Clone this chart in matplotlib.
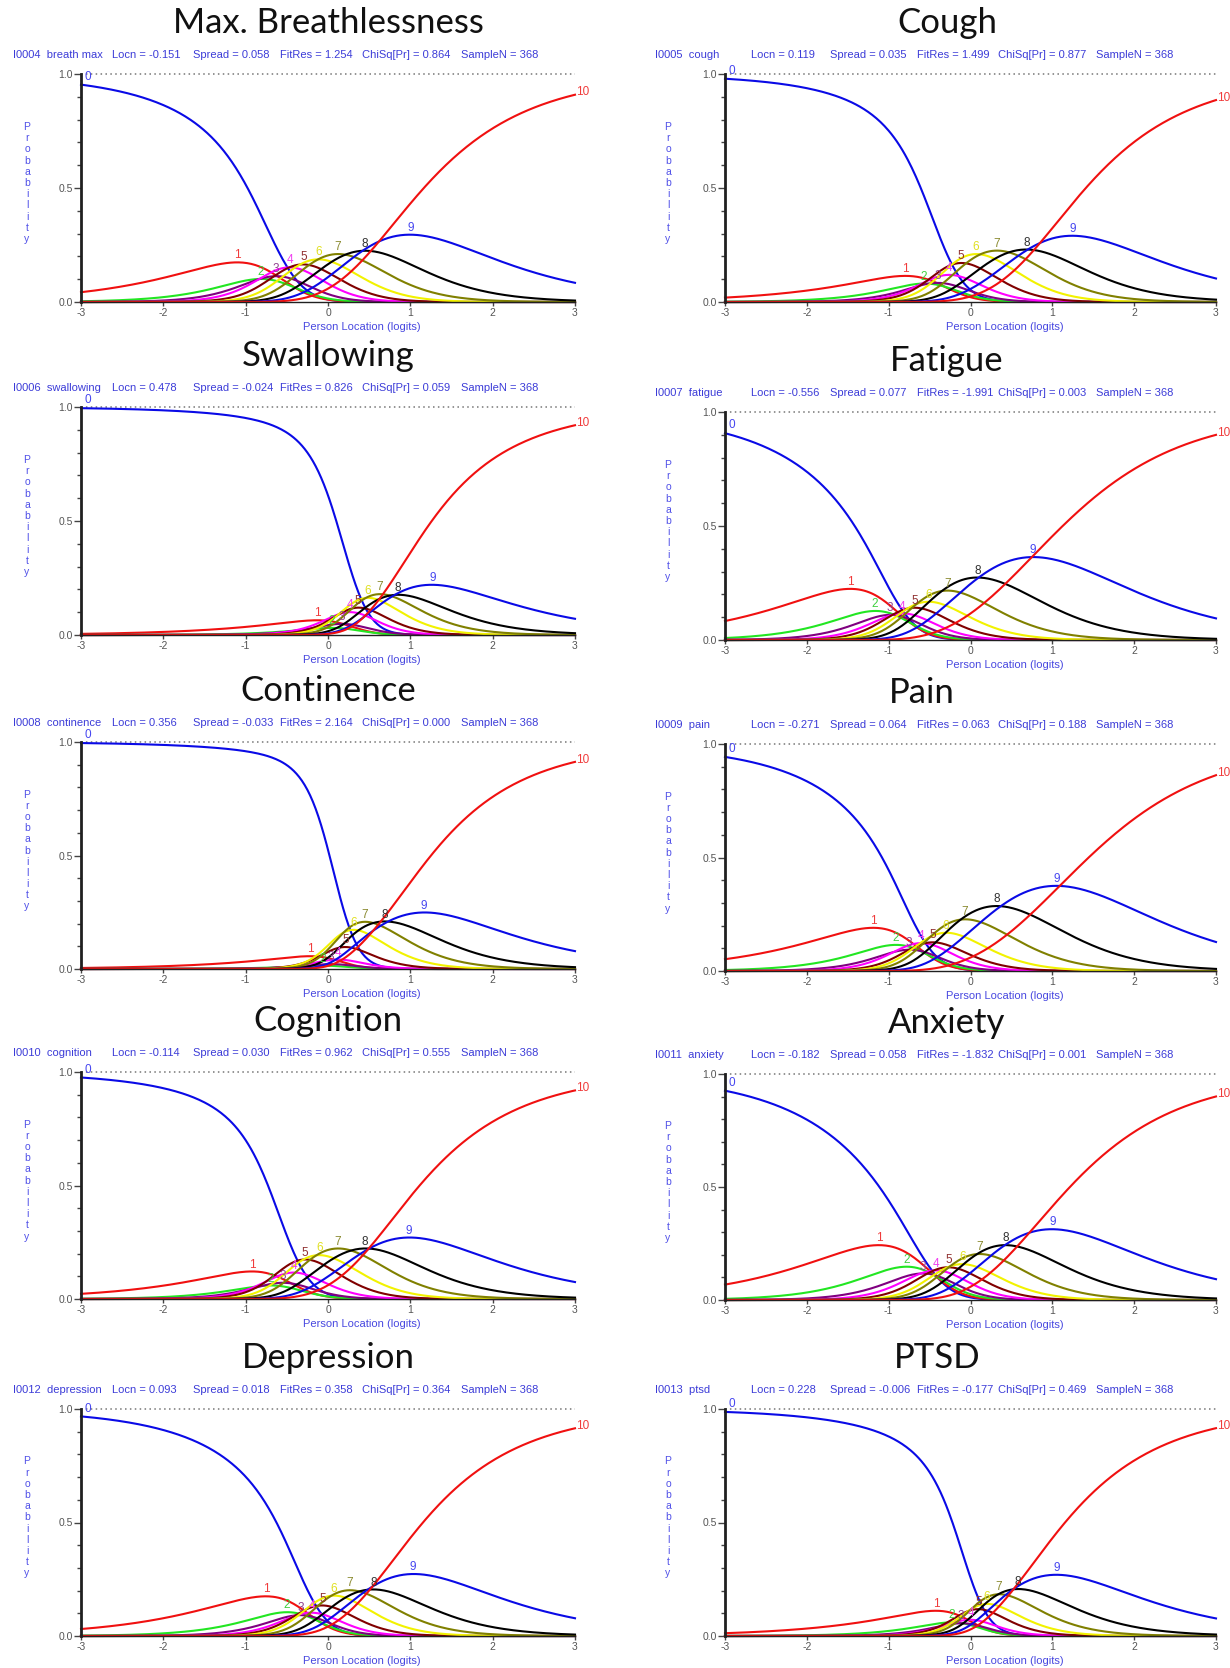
import numpy as np
import matplotlib
matplotlib.use("Agg")
import matplotlib.pyplot as plt

plt.rcParams['axes.unicode_minus'] = False

# ---------------- data ----------------
titles = ["Max. Breathlessness", "Cough", "Swallowing", "Fatigue", "Continence",
          "Pain", "Cognition", "Anxiety", "Depression", "PTSD"]
item_codes = ["I0004", "I0005", "I0006", "I0007", "I0008",
              "I0009", "I0010", "I0011", "I0012", "I0013"]
item_names = ["breath max", "cough", "swallowing", "fatigue", "continence",
              "pain", "cognition", "anxiety", "depression", "ptsd"]
locn = ["-0.151", "0.119", "0.478", "-0.556", "0.356", "-0.271", "-0.114", "-0.182", "0.093", "0.228"]
spread = ["0.058", "0.035", "-0.024", "0.077", "-0.033", "0.064", "0.030", "0.058", "0.018", "-0.006"]
fitres = ["1.254", "1.499", "0.826", "-1.991", "2.164", "0.063", "0.962", "-1.832", "0.358", "-0.177"]
chisq = ["0.864", "0.877", "0.059", "0.003", "0.000", "0.188", "0.555", "0.001", "0.364", "0.469"]
sample_n = ["368"] * 10

# item thresholds (logits), categories 0..10
thr_breath = [0.10, -0.40, -0.83, -0.84, -0.47, -0.34, -0.12, 0.21, 0.42, 0.62]
thr_cough = [0.93, -0.32, -0.51, -0.68, -0.55, -0.23, 0.12, 0.47, 0.70, 0.85]
thr_swallow = [2.29, 0.70, -0.34, -0.50, 0.14, 0.12, 0.46, 0.75, 0.81, 0.44]
thr_fatigue = [-0.61, -0.73, -0.92, -0.96, -0.95, -0.77, -0.66, -0.35, 0.10, 0.75]
thr_contin = [2.39, 1.21, -0.40, -0.58, -0.68, -0.32, 0.19, 0.55, 0.73, 0.55]
thr_pain = [-0.10, -0.53, -0.62, -0.94, -0.56, -0.67, -0.49, -0.12, 0.37, 1.09]
thr_cognition = [0.76, -0.09, -0.80, -0.97, -0.75, -0.30, -0.14, 0.28, 0.50, 0.49]
thr_anxiety = [-0.39, -0.43, -0.45, -0.61, -0.45, -0.28, -0.25, 0.08, 0.42, 0.72]
thr_depress = [0.45, -0.10, -0.28, -0.38, -0.41, -0.28, 0.04, 0.38, 0.48, 0.54]
thr_ptsd = [1.38, 0.30, -0.10, -0.30, -0.46, -0.03, 0.01, 0.34, 0.52, 0.53]
thresholds = [thr_breath, thr_cough, thr_swallow, thr_fatigue, thr_contin,
              thr_pain, thr_cognition, thr_anxiety, thr_depress, thr_ptsd]

x_ticks = [-3, -2, -1, 0, 1, 2, 3]
y_major = [0.0, 0.5, 1.0]

# ---------------- style ----------------
line_cols = ['#0a0ae6', '#f01010', '#22e622', '#800080', '#ff00ff', '#800000',
             '#f2f200', '#808000', '#000000', '#0a0ae6', '#f01010']
lab_cols = ['#4646f0', '#f03c3c', '#40d040', '#904090', '#f040f0', '#903030',
            '#e0e020', '#8a8a30', '#303030', '#4646f0', '#f03c3c']
blue_txt = '#3c3cd8'
small_font = ['Liberation Sans Narrow', 'Liberation Sans', 'DejaVu Sans']

W, H = 1230, 1668
fig = plt.figure(figsize=(W / 100, H / 100), dpi=100)

col_x = [(81, 575), (725, 1216)]
rows_left = [(74, 302), (407, 635), (742, 969), (1072, 1299), (1409, 1636)]
rows_right = [(74, 302), (412, 640), (744, 971), (1074, 1300), (1409, 1636)]
title_cx = [328, 947, 328, 947, 328, 922, 328, 947, 328, 937]
hdr_start = [13, 655]
hdr_off = [[0, 99, 180, 267, 349, 448], [0, 96, 175, 262, 343, 441]]
ylab_x = [27, 668]
xlab_cx = [362, 1005]


def fx(px):
    return px / W


def fy(py):
    return 1 - py / H


def category_probs(thr, theta):
    thr = np.asarray(thr, float)
    cum = np.concatenate([[0.0], np.cumsum(thr)])
    k = np.arange(len(thr) + 1)
    lg = np.outer(theta, k) - cum
    lg -= lg.max(axis=1, keepdims=True)
    e = np.exp(lg)
    return e / e.sum(axis=1, keepdims=True)


theta = np.linspace(-3, 3, 361)

for i in range(10):
    r, c = divmod(i, 2)
    x0, x1 = col_x[c]
    top, bot = (rows_left if c == 0 else rows_right)[r]
    ax = fig.add_axes([fx(x0), fy(bot), (x1 - x0) / W, (bot - top) / H])
    ax.set_xlim(-3, 3)
    ax.set_ylim(0, 1)
    for s in ('top', 'right'):
        ax.spines[s].set_visible(False)
    ax.spines['left'].set_linewidth(2.0)
    ax.spines['left'].set_color('#202020')
    ax.spines['bottom'].set_linewidth(1.0)
    ax.spines['bottom'].set_color('#202020')
    ax.set_yticks(y_major)
    ax.set_yticklabels([f"{v:.1f}" for v in y_major])
    ax.set_yticks(np.arange(0, 1.01, 0.1), minor=True)
    ax.set_xticks(x_ticks)
    ax.set_xticklabels([str(v) for v in x_ticks])
    ax.tick_params(axis='y', which='major', length=5, width=1, color='#444444',
                   labelsize=7.5, labelcolor='#555555', pad=1)
    ax.tick_params(axis='y', which='minor', length=3, width=1, color='#444444')
    ax.tick_params(axis='x', which='major', length=3, width=1, color='#444444',
                   labelsize=7.5, labelcolor='#555555', pad=1)
    for lab in ax.get_xticklabels() + ax.get_yticklabels():
        lab.set_family(small_font)

    ax.plot([-3, 3], [1, 1], ls=(0, (1, 2.2)), color='#777777', lw=1.1, clip_on=False)

    P = category_probs(thresholds[i], theta)
    for k in range(11):
        ax.plot(theta, P[:, k], color=line_cols[k], lw=1.5, clip_on=False,
                solid_joinstyle='round')

    # curve labels
    ax.text(-2.96, P[0, 0] + 0.008, "0", color=lab_cols[0], fontsize=8.5,
            ha='left', va='bottom', family=small_font)
    ax.text(3.01, P[-1, 10] + 0.01, "10", color=lab_cols[10], fontsize=8.5,
            ha='left', va='center', family=small_font)
    for k in range(1, 10):
        j = int(np.argmax(P[:, k]))
        ax.text(theta[j], P[j, k] + 0.004, str(k), color=lab_cols[k], fontsize=8.5,
                ha='center', va='bottom', family=small_font)

    # title
    fig.text(fx(title_cx[i]), fy(top - 51), titles[i], fontsize=25, family=['Lato', 'DejaVu Sans'],
             ha='center', va='center', color='#111111')
    # header
    hs = hdr_start[c]
    offs = hdr_off[c]
    fields = [f"{item_codes[i]}  {item_names[i]}", f"Locn = {locn[i]}",
              f"Spread = {spread[i]}", f"FitRes = {fitres[i]}",
              f"ChiSq[Pr] = {chisq[i]}", f"SampleN = {sample_n[i]}"]
    for f_, o in zip(fields, offs):
        fig.text(fx(hs + o), fy(top - 19), f_, fontsize=8, color=blue_txt,
                 family=small_font, ha='left', va='center')
    # y label: stacked letters
    word = "Probability"
    yc = (top + bot) / 2 - 5
    pitch = 11.2
    for n, ch in enumerate(word):
        yy = yc + (n - (len(word) - 1) / 2) * pitch
        fig.text(fx(ylab_x[c]), fy(yy), ch, fontsize=7.5, color='#5050e8',
                 family=small_font, ha='center', va='center')
    # x label
    fig.text(fx(xlab_cx[c]), fy(bot + 25), "Person Location (logits)", fontsize=8,
             color='#4848e0', family=small_font, ha='center', va='center')

fig.savefig("out.png", dpi=100, facecolor='white')
